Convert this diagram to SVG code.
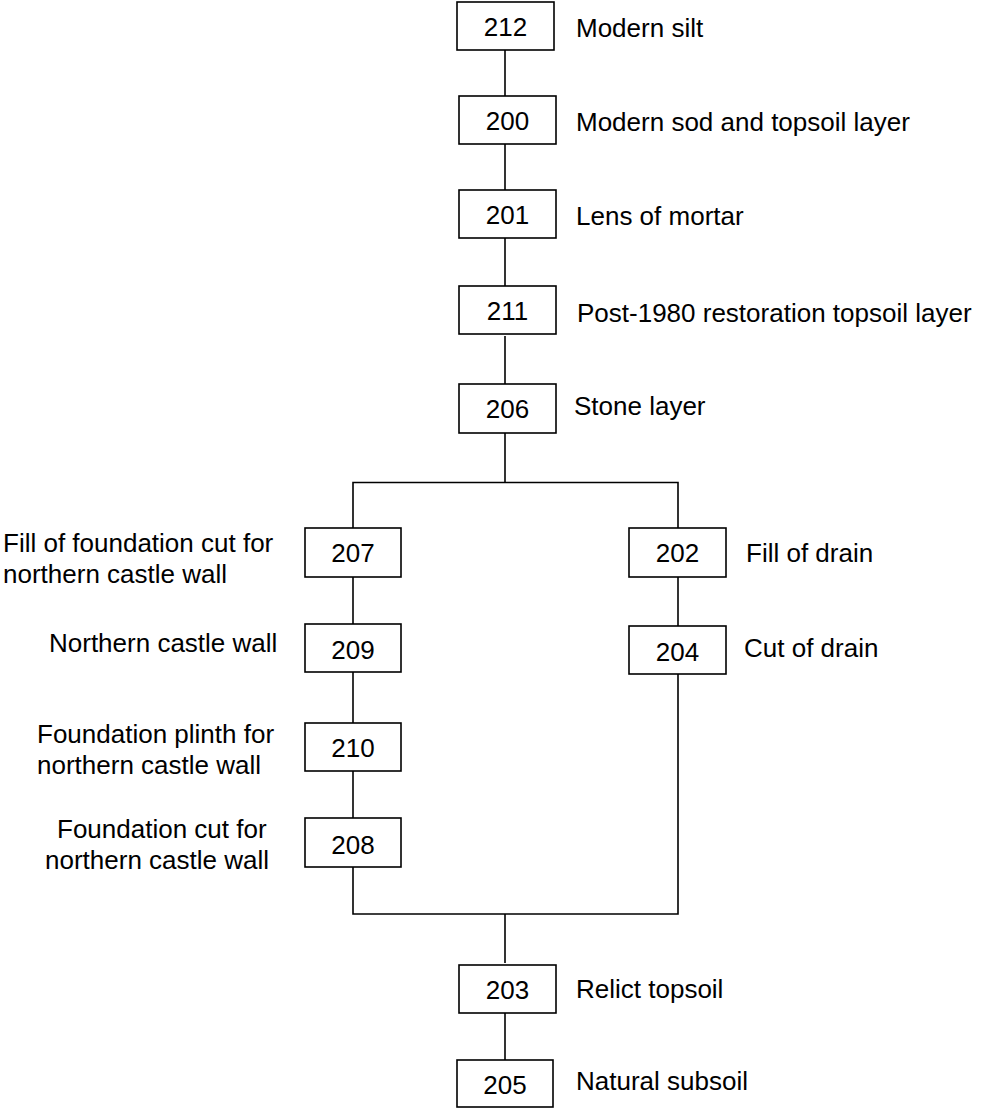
<svg xmlns="http://www.w3.org/2000/svg" width="981" height="1108" viewBox="0 0 981 1108">
  <style>
    .box { fill: #fff; stroke: #000; stroke-width: 1.6; }
    .num { font-family: "Liberation Sans", Arial, sans-serif; font-size: 26px; fill: #000; text-anchor: middle; }
    .lbl { font-family: "Liberation Sans", Arial, sans-serif; font-size: 26px; fill: #000; }
    .wire { fill: none; stroke: #000; stroke-width: 1.6; }
  </style>
  <rect width="981" height="1108" fill="#fff"/>

  <!-- connectors -->
  <g id="connectors" class="wire">
    <path d="M505 50V96"/>
    <path d="M505 144V190"/>
    <path d="M505 238V286"/>
    <path d="M505 336V384"/>
    <path d="M505 433V482.5"/>
    <path d="M353 528V482.5H678V528"/>
    <path d="M353 577V624"/>
    <path d="M353 672V723"/>
    <path d="M353 771V818"/>
    <path d="M678 577V626"/>
    <path d="M353 867V914H678V674"/>
    <path d="M505 914V963"/>
    <path d="M505 1013V1060"/>
  </g>

  <!-- main column -->
  <g id="n212"><rect class="box" x="457" y="2" width="97" height="48"/><text class="num" x="505.5" y="36">212</text><text class="lbl" x="576" y="37">Modern silt</text></g>
  <g id="n200"><rect class="box" x="459" y="96" width="97" height="48"/><text class="num" x="507.5" y="130">200</text><text class="lbl" x="576" y="131">Modern sod and topsoil layer</text></g>
  <g id="n201"><rect class="box" x="459" y="190" width="97" height="48"/><text class="num" x="507.5" y="224">201</text><text class="lbl" x="576" y="225">Lens of mortar</text></g>
  <g id="n211"><rect class="box" x="459" y="286" width="97" height="48"/><text class="num" x="507.5" y="320">211</text><text class="lbl" x="577" y="322">Post-1980 restoration topsoil layer</text></g>
  <g id="n206"><rect class="box" x="459" y="384" width="97" height="49"/><text class="num" x="507.5" y="418">206</text><text class="lbl" x="574" y="415">Stone layer</text></g>

  <!-- left branch -->
  <g id="n207"><rect class="box" x="305" y="528" width="96" height="49"/><text class="num" x="353" y="562">207</text>
    <text class="lbl" x="3" y="552">Fill of foundation cut for</text><text class="lbl" x="3" y="583">northern castle wall</text></g>
  <g id="n209"><rect class="box" x="305" y="624" width="96" height="48"/><text class="num" x="353" y="659">209</text>
    <text class="lbl" x="49" y="652">Northern castle wall</text></g>
  <g id="n210"><rect class="box" x="305" y="723" width="96" height="48"/><text class="num" x="353" y="757">210</text>
    <text class="lbl" x="37" y="743">Foundation plinth for</text><text class="lbl" x="37" y="774">northern castle wall</text></g>
  <g id="n208"><rect class="box" x="305" y="818" width="96" height="49"/><text class="num" x="353" y="854">208</text>
    <text class="lbl" x="57" y="838">Foundation cut for</text><text class="lbl" x="45" y="869">northern castle wall</text></g>

  <!-- right branch -->
  <g id="n202"><rect class="box" x="629" y="528" width="97" height="49"/><text class="num" x="677.5" y="562">202</text><text class="lbl" x="746" y="562">Fill of drain</text></g>
  <g id="n204"><rect class="box" x="629" y="626" width="97" height="48"/><text class="num" x="677.5" y="661">204</text><text class="lbl" x="744" y="657">Cut of drain</text></g>

  <!-- lower column -->
  <g id="n203"><rect class="box" x="459" y="965" width="97" height="48"/><text class="num" x="507.5" y="999">203</text><text class="lbl" x="576" y="998">Relict topsoil</text></g>
  <g id="n205"><rect class="box" x="457" y="1060" width="96" height="47"/><text class="num" x="505" y="1094">205</text><text class="lbl" x="576" y="1090">Natural subsoil</text></g>
</svg>
